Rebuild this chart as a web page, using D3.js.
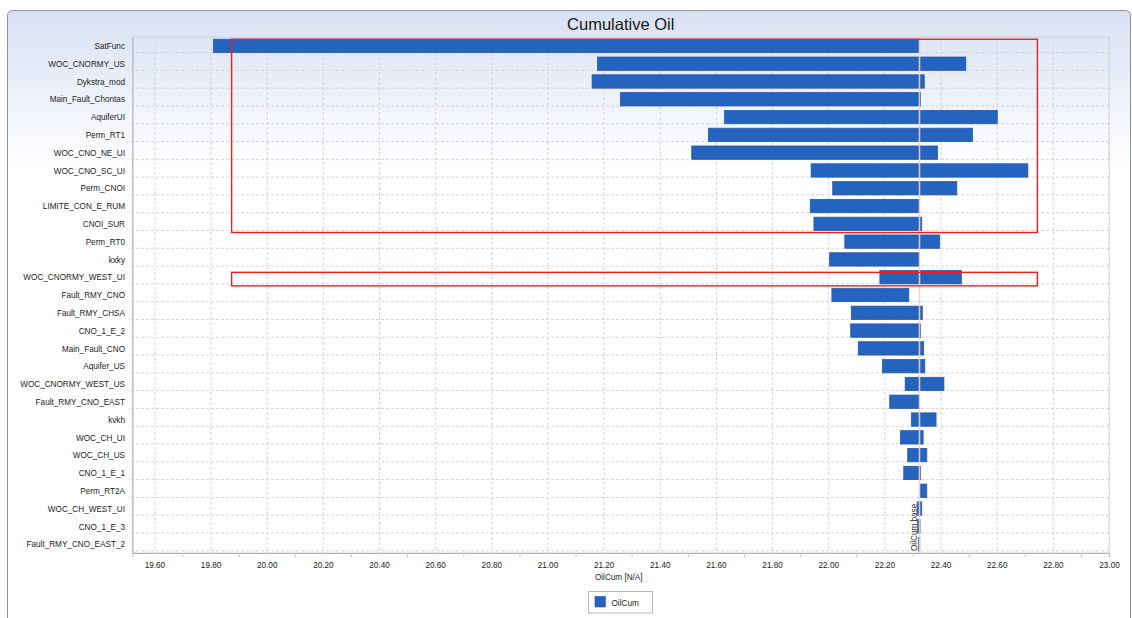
<!DOCTYPE html>
<html>
<head>
<meta charset="utf-8">
<script src="https://cdn.jsdelivr.net/npm/d3@7"></script>
<style>
  html, body { margin: 0; padding: 0; background: #ffffff; }
  svg { display: block; font-family: "Liberation Sans", Arial, sans-serif; }
</style>
</head>
<body>
<svg id="chart" width="1132" height="618"></svg>
<script>
// Tornado chart of cumulative oil sensitivity per parameter
const categories = [
  "SatFunc", "WOC_CNORMY_US", "Dykstra_mod", "Main_Fault_Chontas", "AquiferUI",
  "Perm_RT1", "WOC_CNO_NE_UI", "WOC_CNO_SC_UI", "Perm_CNOI", "LIMITE_CON_E_RUM",
  "CNOI_SUR", "Perm_RT0", "kxky", "WOC_CNORMY_WEST_UI", "Fault_RMY_CNO",
  "Fault_RMY_CHSA", "CNO_1_E_2", "Main_Fault_CNO", "Aquifer_US", "WOC_CNORMY_WEST_US",
  "Fault_RMY_CNO_EAST", "kvkh", "WOC_CH_UI", "WOC_CH_US", "CNO_1_E_1",
  "Perm_RT2A", "WOC_CH_WEST_UI", "CNO_1_E_3", "Fault_RMY_CNO_EAST_2"
];
const lowValues = [
  19.81, 21.178, 21.159, 21.26, 21.631,
  21.573, 21.514, 21.939, 22.016, 21.936,
  21.949, 22.059, 22.005, 22.184, 22.013,
  22.082, 22.08, 22.107, 22.193, 22.274,
  22.219, 22.296, 22.257, 22.283, 22.269,
  22.327, 22.317, 22.318, 22.321
];
const highValues = [
  22.324, 22.49, 22.342, 22.329, 22.602,
  22.514, 22.389, 22.711, 22.458, 22.324,
  22.333, 22.397, 22.324, 22.474, 22.287,
  22.335, 22.329, 22.34, 22.344, 22.412,
  22.324, 22.384, 22.338, 22.351, 22.329,
  22.351, 22.333, 22.327, 22.326
];
const baseValue = 22.325;
const xTicks = [19.6, 19.8, 20.0, 20.2, 20.4, 20.6, 20.8, 21.0, 21.2, 21.4,
                21.6, 21.8, 22.0, 22.2, 22.4, 22.6, 22.8, 23.0];
const xMinorTicks = [19.7, 19.9, 20.1, 20.3, 20.5, 20.7, 20.9, 21.1, 21.3, 21.5,
                     21.7, 21.9, 22.1, 22.3, 22.5, 22.7, 22.9];
// highlighted groups: [first category, last category, low x, high x]
const highlights = [
  ["SatFunc", "CNOI_SUR", 19.875, 22.745],
  ["WOC_CNORMY_WEST_UI", "WOC_CNORMY_WEST_UI", 19.875, 22.745]
];
const title = "Cumulative Oil";
const xTitle = "OilCum [N/A]";
const seriesName = "OilCum";
const baseLabel = "OilCum base";

const W = 1132, H = 618;
const plot = { left: 132.5, right: 1109, top: 37, bottom: 553 };
const barColor = "#2463be";
const smallFont = 9.4, squeeze = 0.87;

const svg = d3.select("#chart");

// background panel with soft blue gradient
const defs = svg.append("defs");
const grad = defs.append("linearGradient")
  .attr("id", "panelGrad").attr("gradientUnits", "userSpaceOnUse")
  .attr("x1", 0).attr("y1", 10).attr("x2", 0).attr("y2", 170);
grad.append("stop").attr("offset", 0).attr("stop-color", "#d8e1f2");
grad.append("stop").attr("offset", 1).attr("stop-color", "#ffffff");

svg.append("rect").attr("width", W).attr("height", H).attr("fill", "#ffffff");
svg.append("rect")
  .attr("x", 7.5).attr("y", 10.5).attr("width", 1123).attr("height", 640)
  .attr("rx", 5).attr("fill", "url(#panelGrad)")
  .attr("stroke", "#8e949c").attr("stroke-width", 1);

const x = d3.scaleLinear().domain([19.522, 23.0]).range([plot.left, plot.right]);
const y = d3.scaleBand().domain(categories).range([plot.top, plot.bottom])
  .paddingInner(0.25).paddingOuter(0.125);
const bw = y.bandwidth();

// title
svg.append("text")
  .attr("x", (plot.left + plot.right) / 2).attr("y", 29.5)
  .attr("text-anchor", "middle").attr("font-size", 16.5).attr("fill", "#1a1a1a")
  .text(title);

// plot frame
svg.append("rect")
  .attr("x", plot.left).attr("y", plot.top)
  .attr("width", plot.right - plot.left).attr("height", plot.bottom - plot.top)
  .attr("fill", "none").attr("stroke", "#d3d6db").attr("stroke-width", 1);

// vertical grid
svg.append("g")
  .attr("transform", `translate(0,${plot.top})`)
  .call(d3.axisBottom(x).tickValues(xTicks).tickSize(plot.bottom - plot.top).tickFormat(""))
  .call(g => g.select(".domain").remove())
  .call(g => g.selectAll("line").attr("stroke", "#d6d6d6").attr("stroke-dasharray", "3,2"));

// horizontal grid through each category
svg.append("g")
  .attr("transform", `translate(${plot.right},${bw / 2})`)
  .call(d3.axisLeft(y).tickSize(plot.right - plot.left + 4.5).tickFormat(""))
  .call(g => g.select(".domain").remove())
  .call(g => g.selectAll("line").attr("stroke", "#d6d6d6").attr("stroke-dasharray", "3,2"));

// bars spanning low to high outcome
svg.append("g").selectAll("rect")
  .data(categories)
  .join("rect")
  .attr("x", (d, i) => x(Math.min(lowValues[i], highValues[i])))
  .attr("y", d => y(d))
  .attr("width", (d, i) => Math.max(1, Math.abs(x(highValues[i]) - x(lowValues[i]))))
  .attr("height", bw)
  .attr("fill", barColor)
  .attr("stroke", "#2a5aa6").attr("stroke-width", 0.8);

// base case line
svg.append("line")
  .attr("x1", x(baseValue)).attr("x2", x(baseValue))
  .attr("y1", plot.top).attr("y2", plot.bottom)
  .attr("stroke", "#f0d2d4").attr("stroke-width", 1.6).attr("opacity", 0.9);

// highlight boxes
const boxTop = (d, i) => y(d[0]) + (i === 0 ? 0 : 1.8);
svg.append("g").selectAll("rect")
  .data(highlights)
  .join("rect")
  .attr("x", d => x(d[2]))
  .attr("y", boxTop)
  .attr("width", d => x(d[3]) - x(d[2]))
  .attr("height", (d, i) => y(d[1]) + bw + 2 - boxTop(d, i))
  .attr("fill", "none").attr("stroke", "#ff1a1a").attr("stroke-width", 1.4);

// left axis with category labels
const yAxis = svg.append("g")
  .attr("transform", `translate(${plot.left},0)`)
  .call(d3.axisLeft(y).tickSize(0).tickPadding(0));
yAxis.select(".domain").attr("stroke", "#aeb2b8");
yAxis.selectAll("text")
  .attr("x", null).attr("dy", "0.34em")
  .attr("font-family", "'Liberation Sans', Arial, sans-serif")
  .attr("font-size", smallFont).attr("fill", "#222")
  .attr("transform", `translate(-7.5,0) scale(${squeeze},1)`);

// bottom axis: minor tick marks
svg.append("g")
  .attr("transform", `translate(0,${plot.bottom})`)
  .call(d3.axisBottom(x).tickValues(xMinorTicks).tickSize(4).tickFormat(""))
  .call(g => g.select(".domain").attr("stroke", "#aeb2b8"))
  .call(g => g.selectAll("line").attr("stroke", "#c4c7cc"));

// bottom axis: labels
const xAxis = svg.append("g")
  .attr("transform", `translate(0,${plot.bottom})`)
  .call(d3.axisBottom(x).tickValues(xTicks).tickSize(0).tickPadding(0)
    .tickFormat(d3.format(".2f")));
xAxis.select(".domain").remove();
xAxis.selectAll("text")
  .attr("y", null).attr("dy", null)
  .attr("font-family", "'Liberation Sans', Arial, sans-serif")
  .attr("font-size", smallFont).attr("fill", "#222")
  .attr("transform", `translate(0,15) scale(${squeeze},1)`);

// x axis title
svg.append("text")
  .attr("transform", `translate(${(plot.left + plot.right) / 2 - 2},580) scale(${squeeze},1)`)
  .attr("text-anchor", "middle").attr("font-size", smallFont).attr("fill", "#222")
  .text(xTitle);

// base case caption along the line
svg.append("text")
  .attr("transform", `translate(${x(baseValue) - 2},${plot.bottom - 2}) rotate(-90) scale(${squeeze},1)`)
  .attr("font-size", smallFont).attr("fill", "#333")
  .text(baseLabel);

// legend
const legend = svg.append("g").attr("transform", "translate(588.5,591.5)");
legend.append("rect").attr("width", 64).attr("height", 21.5)
  .attr("fill", "#ffffff").attr("stroke", "#b3b7be");
legend.append("rect").attr("x", 6.5).attr("y", 5).attr("width", 10.5).attr("height", 10.5)
  .attr("fill", barColor).attr("stroke", "#2a5aa6").attr("stroke-width", 0.6);
legend.append("text")
  .attr("transform", `translate(23,14) scale(${squeeze},1)`)
  .attr("font-size", smallFont).attr("fill", "#222")
  .text(seriesName);
</script>
</body>
</html>
